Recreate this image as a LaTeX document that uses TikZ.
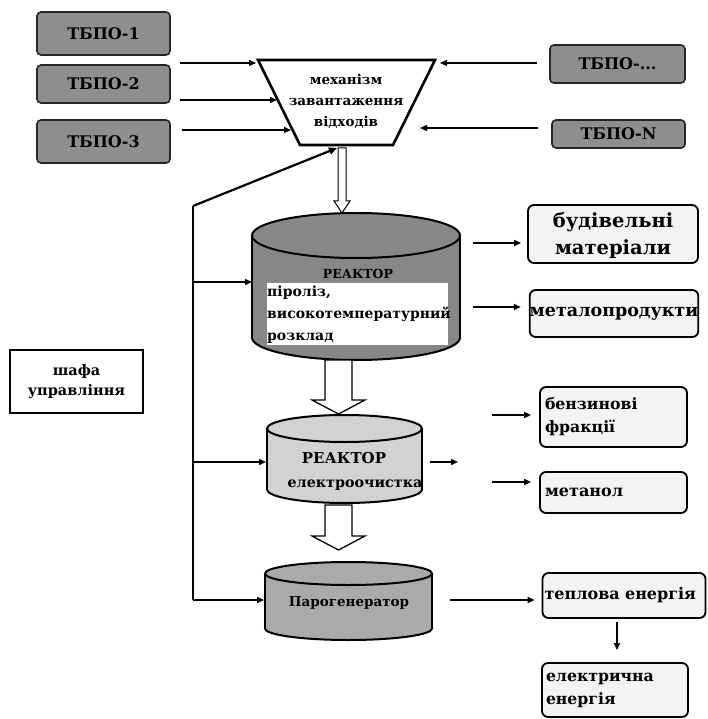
\documentclass[tikz,border=0pt]{standalone}
\usepackage{fontspec}
\setmainfont{DejaVu Serif}
\usetikzlibrary{arrows.meta,calc}
\definecolor{srcgray}{HTML}{8E8E8E}
\definecolor{rOne}{HTML}{878787}
\definecolor{rTwo}{HTML}{D2D2D2}
\definecolor{rThree}{HTML}{AAAAAA}
\definecolor{outfill}{HTML}{F3F3F3}
\newcommand\fsz[2]{\fontsize{#1}{#2}\selectfont\bfseries}
\begin{document}
\begin{tikzpicture}[x=1pt,y=-1pt,
  every node/.style={inner sep=0pt, align=center},
  srcbox/.style={draw=black!85, line width=1.6pt, rounded corners=4pt, fill=srcgray, font=\fsz{16}{18}},
  outbox/.style={draw=black, line width=1.8pt, rounded corners=6pt, fill=outfill},
  ctrlbox/.style={draw=black, line width=1.8pt, fill=white},
  arr/.style={line width=1.4pt, -{Triangle[length=7pt,width=6pt]}},
  ctrl/.style={line width=2.2pt},
  cyl/.style={draw=black, line width=2pt},
  blockarrow/.style={draw=black, line width=1.3pt, fill=white, line join=miter}]
\useasboundingbox (0,0) rectangle (707,719);
\fill[white] (0,0) rectangle (707,719);

% ---- sources
\node[srcbox, minimum width=133pt, minimum height=43pt] (t1) at (103.5,33.5) {ТБПО-1};
\node[srcbox, minimum width=133pt, minimum height=38pt] (t2) at (103.5,84) {ТБПО-2};
\node[srcbox, minimum width=133pt, minimum height=43pt] (t3) at (103.5,141.5) {ТБПО-3};
\node[srcbox, minimum width=135pt, minimum height=38pt] (td) at (617.5,64) {ТБПО-...};
\node[srcbox, minimum width=133pt, minimum height=28pt] (tn) at (618.5,134) {ТБПО-N};

% ---- hopper
\draw[line width=2.6pt, fill=white, line join=miter] (258,60) -- (435,60) -- (393,145) -- (300,145) -- cycle;
\node[font=\fsz{13.5}{21}] (hop) at (346,101) {механізм\\завантаження\\відходів};
\coordinate (hl1) at (256,63);
\coordinate (hl2) at (277,100);
\coordinate (hl3) at (291,130);
\coordinate (hr1) at (440,63);
\coordinate (hr2) at (420,128);
\coordinate (hbot) at (337,148);
\coordinate (s1) at (180,63);
\coordinate (s2) at (180,100);
\coordinate (s3) at (182,130);
\coordinate (s4) at (537,63);
\coordinate (s5) at (538,128);
\draw[arr] (s1) -- (hl1);
\draw[arr] (s2) -- (hl2);
\draw[arr] (s3) -- (hl3);
\draw[arr] (s4) -- (hr1);
\draw[arr] (s5) -- (hr2);

% ---- block arrow hopper -> reactor 1
\draw[blockarrow, line width=1pt] (338,148) -- (346,148) -- (346,201) -- (350,201) -- (342,213) -- (334,201) -- (338,201) -- cycle;

% ---- reactor 1
\fill[rOne, draw=black, line width=2pt] (356,337.5) ellipse [x radius=104, y radius=22.5];
\fill[rOne] (252,235.5) rectangle (460,337.5);
\draw[cyl] (252,235.5) -- (252,337.5);
\draw[cyl] (460,235.5) -- (460,337.5);
\draw[cyl, fill=rOne] (356,235.5) ellipse [x radius=104, y radius=22.5];
\coordinate (r1w) at (252,282);
\coordinate (r1e) at (473,243);
\coordinate (r1e2) at (473,307);
\node[font=\fsz{12.5}{14}] (r1t) at (358,274) {РЕАКТОР};
\node[fill=white, minimum width=181pt, minimum height=62pt] (r1w1) at (357,313.5) {};
\node[font=\fsz{14}{22}, align=left, anchor=north west] (r1txt) at (267,286) {піроліз,\\високотемпературний\\розклад};

% ---- block arrow reactor 1 -> reactor 2
\draw[blockarrow] (325,360) -- (352,360) -- (352,400) -- (365,400) -- (338.5,414) -- (312,400) -- (325,400) -- cycle;

% ---- reactor 2
\fill[rTwo, draw=black, line width=2pt] (344.5,489.5) ellipse [x radius=77.5, y radius=13.5];
\fill[rTwo] (267,428.5) rectangle (422,489.5);
\draw[cyl] (267,428.5) -- (267,489.5);
\draw[cyl] (422,428.5) -- (422,489.5);
\draw[cyl, fill=rTwo] (344.5,428.5) ellipse [x radius=77.5, y radius=13.5];
\node[font=\fsz{15}{17}] (r2a) at (344,458) {РЕАКТОР};
\node[font=\fsz{14.3}{16}] (r2b) at (355,485) {електроочистка};
\coordinate (r2w) at (266,462);
\coordinate (r2e) at (430,462);
\coordinate (r2o) at (458,462);

% ---- block arrow reactor 2 -> steam generator
\draw[blockarrow] (325,505) -- (352,505) -- (352,536) -- (365,536) -- (338.5,550) -- (312,536) -- (325,536) -- cycle;

% ---- steam generator
\fill[rThree, draw=black, line width=2pt] (348.5,628.5) ellipse [x radius=83.5, y radius=11.5];
\fill[rThree] (265,573.5) rectangle (432,628.5);
\draw[cyl] (265,573.5) -- (265,628.5);
\draw[cyl] (432,573.5) -- (432,628.5);
\draw[cyl, fill=rThree] (348.5,573.5) ellipse [x radius=83.5, y radius=11.5];
\node[font=\fsz{13.5}{15}] (pg) at (349,603) {Парогенератор};
\coordinate (pgw) at (264,600);
\coordinate (pge) at (450,600);

% ---- control
\node[ctrlbox, minimum width=133pt, minimum height=63pt, font=\fsz{14.5}{20}] (sh) at (76.5,381.5) {шафа\\управління};
\coordinate (c0) at (193,206);
\coordinate (c1) at (193,282);
\coordinate (c2) at (193,462);
\coordinate (c3) at (193,600);
\draw[ctrl, -{Triangle[length=8pt,width=7pt]}] (c0) -- (hbot);
\draw[ctrl] (c0) -- (c3);
\draw[arr] (c1) -- (r1w);
\draw[arr] (c2) -- (r2w);
\draw[arr] (c3) -- (pgw);

% ---- outputs
\node[outbox, minimum width=170pt, minimum height=58pt, font=\fsz{19.5}{27}, text depth=2pt] (bm) at (613,234) {будівельні\\матеріали};
\node[outbox, minimum width=168pt, minimum height=47pt, font=\fsz{17.5}{19}] (mp) at (614,313.5) {металопродукти};
\node[outbox, minimum width=147pt, minimum height=60pt, text width=137pt, align=left, font=\fsz{15.7}{23}] (bf) at (613.5,417) {бензинові\\фракції};
\node[outbox, minimum width=147pt, minimum height=41pt, text width=137pt, align=left, font=\fsz{16}{18}] (mt) at (613.5,492.5) {метанол};
\node[outbox, minimum width=163pt, minimum height=45pt, text width=159pt, align=left, font=\fsz{16}{18}] (te) at (624,595.5) {теплова енергія};
\node[outbox, minimum width=146pt, minimum height=54pt, text width=138pt, align=left, font=\fsz{15.7}{23}] (ee) at (615,690) {електрична\\енергія};

\draw[arr] (r1e) -- ($(bm.west)+(-6,9)$);
\draw[arr] (r1e2) -- ($(mp.west)+(-8,-6.5)$);
\draw[arr] (r2e) -- (r2o);
\draw[arr] ($(bf.west)+(-47,-2)$) -- ($(bf.west)+(-8,-2)$);
\draw[arr] ($(mt.west)+(-47,-10.5)$) -- ($(mt.west)+(-8,-10.5)$);
\draw[arr] (pge) -- ($(te.west)+(-7,4.5)$);
\draw[arr] ($(te.south)+(-7,3)$) -- ($(ee.north)+(2,-12)$);
\end{tikzpicture}
\end{document}
